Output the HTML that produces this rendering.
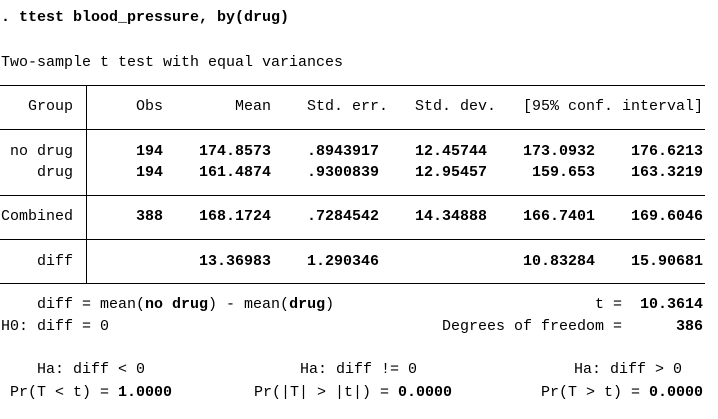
<!DOCTYPE html>
<html><head><meta charset="utf-8"><style>
html,body{margin:0;padding:0;background:#fff;}
body{width:718px;height:419px;position:relative;overflow:hidden;font-family:"Liberation Mono",monospace;font-size:15px;color:#000;}
.t{position:absolute;line-height:22px;white-space:pre;}
.r{position:absolute;left:0;line-height:22px;white-space:pre;text-align:right;}
b{font-weight:bold;}
.h{position:absolute;left:0;width:705px;height:1px;background:#000;}
</style></head><body>
<div class="t" style="left:1px;top:7px"><b>. ttest blood_pressure, by(drug)</b></div>
<div class="t" style="left:1px;top:52px">Two-sample t test with equal variances</div>

<div class="h" style="top:85px"></div>
<div class="h" style="top:129px"></div>
<div class="h" style="top:195px"></div>
<div class="h" style="top:239px"></div>
<div class="h" style="top:283px"></div>
<div style="position:absolute;left:86px;top:85px;width:1px;height:198px;background:#000"></div>

<div>
<div class="r" style="top:96px;width:73px">Group</div>
<div class="r" style="top:96px;width:163px">Obs</div>
<div class="r" style="top:96px;width:271px">Mean</div>
<div class="r" style="top:96px;width:388px">Std. err.</div>
<div class="r" style="top:96px;width:496px">Std. dev.</div>
<div class="r" style="top:96px;width:703px">[95% conf. interval]</div>
</div>

<div>
<div class="r" style="top:141px;width:73px">no drug</div>
<div class="r" style="top:141px;width:163px"><b>194</b></div>
<div class="r" style="top:141px;width:271px"><b>174.8573</b></div>
<div class="r" style="top:141px;width:379px"><b>.8943917</b></div>
<div class="r" style="top:141px;width:487px"><b>12.45744</b></div>
<div class="r" style="top:141px;width:595px"><b>173.0932</b></div>
<div class="r" style="top:141px;width:703px"><b>176.6213</b></div>
</div>
<div>
<div class="r" style="top:162px;width:73px">drug</div>
<div class="r" style="top:162px;width:163px"><b>194</b></div>
<div class="r" style="top:162px;width:271px"><b>161.4874</b></div>
<div class="r" style="top:162px;width:379px"><b>.9300839</b></div>
<div class="r" style="top:162px;width:487px"><b>12.95457</b></div>
<div class="r" style="top:162px;width:595px"><b>159.653</b></div>
<div class="r" style="top:162px;width:703px"><b>163.3219</b></div>
</div>
<div>
<div class="r" style="top:206px;width:73px">Combined</div>
<div class="r" style="top:206px;width:163px"><b>388</b></div>
<div class="r" style="top:206px;width:271px"><b>168.1724</b></div>
<div class="r" style="top:206px;width:379px"><b>.7284542</b></div>
<div class="r" style="top:206px;width:487px"><b>14.34888</b></div>
<div class="r" style="top:206px;width:595px"><b>166.7401</b></div>
<div class="r" style="top:206px;width:703px"><b>169.6046</b></div>
</div>
<div>
<div class="r" style="top:251px;width:73px">diff</div>
<div class="r" style="top:251px;width:271px"><b>13.36983</b></div>
<div class="r" style="top:251px;width:379px"><b>1.290346</b></div>
<div class="r" style="top:251px;width:595px"><b>10.83284</b></div>
<div class="r" style="top:251px;width:703px"><b>15.90681</b></div>
</div>

<div class="t" style="left:37px;top:294px">diff = mean(<b>no drug</b>) - mean(<b>drug</b>)</div>
<div class="r" style="top:294px;width:703px">t =  <b>10.3614</b></div>
<div class="t" style="left:1px;top:316px">H0: diff = 0</div>
<div class="r" style="top:316px;width:703px">Degrees of freedom =      <b>386</b></div>

<div class="t" style="left:37px;top:359px">Ha: diff &lt; 0</div>
<div class="t" style="left:300px;top:359px">Ha: diff != 0</div>
<div class="t" style="left:574px;top:359px">Ha: diff &gt; 0</div>
<div class="t" style="left:10px;top:382px">Pr(T &lt; t) = <b>1.0000</b></div>
<div class="t" style="left:254px;top:382px">Pr(|T| &gt; |t|) = <b>0.0000</b></div>
<div class="r" style="top:382px;width:703px">Pr(T &gt; t) = <b>0.0000</b></div>
</body></html>
